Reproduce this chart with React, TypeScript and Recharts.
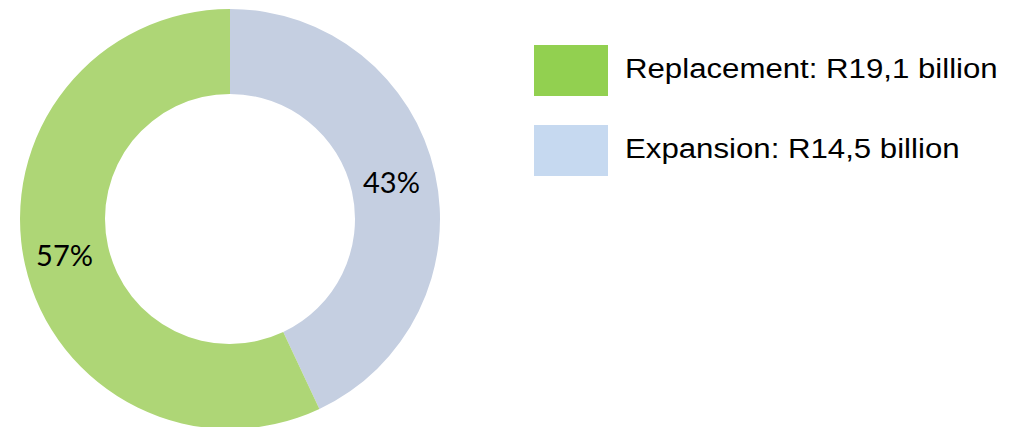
import React from 'react'
import { PieChart, Pie, Cell, Legend } from 'recharts'

const sliceNames = ['Expansion', 'Replacement']
const sliceValues = [43, 57]
const sliceColors = ['#C5CFE1', '#AED676']

const legendLabels = ['Replacement: R19,1 billion', 'Expansion: R14,5 billion']
const legendColors = ['#92D050', '#C6D9F0']

const data = sliceNames.map((name, i) => ({ name, value: sliceValues[i], color: sliceColors[i] }))

const RADIAN = Math.PI / 180

const renderLabel = (props: any) => {
  const { cx, cy, midAngle, innerRadius, outerRadius, value } = props
  const r = (innerRadius + outerRadius) / 2
  const x = cx + r * Math.cos(-midAngle * RADIAN)
  const y = cy + r * Math.sin(-midAngle * RADIAN)
  return (
    <text x={x - 2} y={y - 1} textAnchor="middle" dominantBaseline="central" fill="#000" fontSize={29} fontFamily="Lato, 'Open Sans', sans-serif">
      {value}%
    </text>
  )
}

const LegendContent = () => (
  <div>
    {legendLabels.map((label, i) => (
      <div key={i} style={{ display: 'flex', alignItems: 'center', height: 51, marginBottom: i === 0 ? 29 : 0 }}>
        <div style={{ width: 74, height: 51, backgroundColor: legendColors[i], flexShrink: 0 }} />
        <span
          style={{
            marginLeft: 17,
            fontSize: 27,
            fontFamily: "'Liberation Sans', Arial, sans-serif",
            color: '#000',
            whiteSpace: 'nowrap',
            display: 'inline-block',
            transform: 'scaleX(1.155)',
            transformOrigin: 'left center',
            marginTop: -2,
          }}
        >
          {label}
        </span>
      </div>
    ))}
  </div>
)

export default function App() {
  return (
    <div style={{ position: 'absolute', left: 0, top: 0, width: 1021, height: 427, background: '#fff' }}>
      <PieChart width={1021} height={427} margin={{ top: 0, right: 0, bottom: 0, left: 0 }}>
        <Pie
          data={data}
          dataKey="value"
          nameKey="name"
          cx={230}
          cy={219}
          innerRadius={125}
          outerRadius={210}
          startAngle={90}
          endAngle={-270}
          stroke="none"
          labelLine={false}
          label={renderLabel}
          isAnimationActive={false}
        >
          {data.map((entry, i) => (
            <Cell key={i} fill={entry.color} />
          ))}
        </Pie>
        <Legend content={<LegendContent />} wrapperStyle={{ position: 'absolute', left: 534, top: 45, width: 480 }} />
      </PieChart>
    </div>
  )
}
